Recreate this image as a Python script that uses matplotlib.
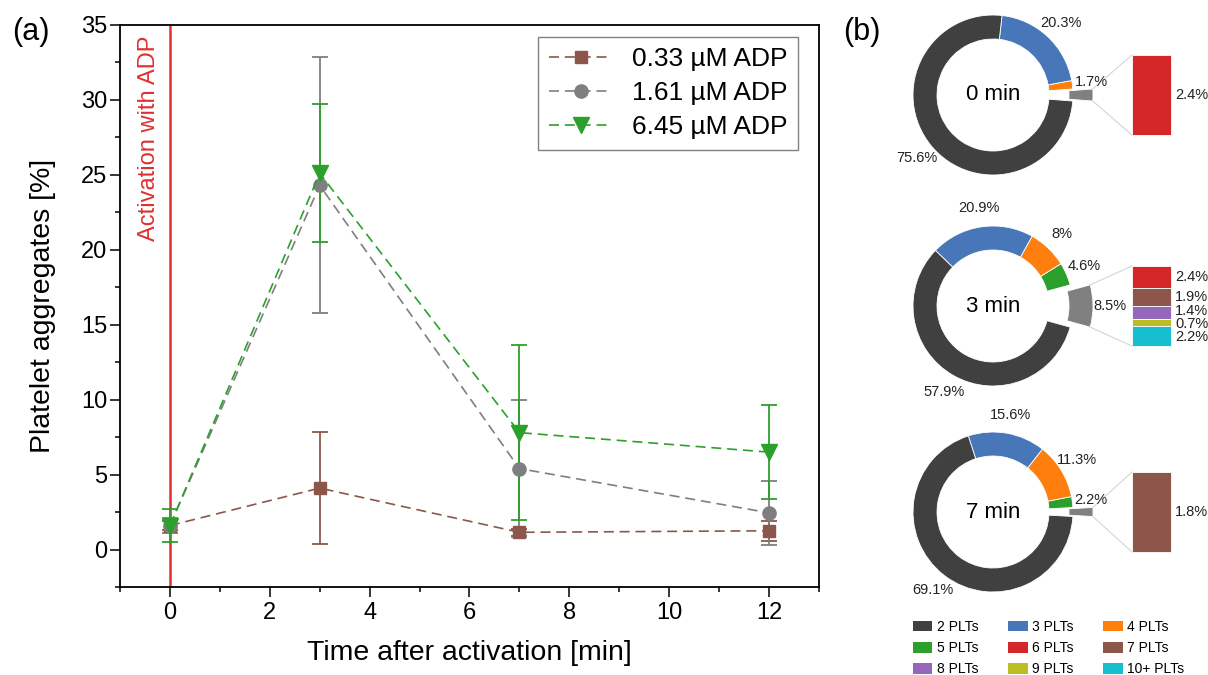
import numpy as np
import matplotlib
matplotlib.use("Agg")
import matplotlib.pyplot as plt
from matplotlib.patches import Patch
from matplotlib.ticker import MultipleLocator

plt.rcParams['font.family'] = ['Liberation Sans', 'DejaVu Sans']

# (a) aggregates over time
times = [0, 3, 7, 12]
adp_labels = ['0.33 µM ADP', '1.61 µM ADP', '6.45 µM ADP']
agg_033 = [1.6, 4.1, 1.15, 1.25]
err_033 = [0.3, 3.75, 0.25, 0.65]
agg_161 = [1.6, 24.3, 5.4, 2.45]
err_161 = [0.5, 8.55, 4.55, 2.15]
agg_645 = [1.6, 25.1, 7.8, 6.5]
err_645 = [1.1, 4.6, 5.85, 3.15]

# (b) aggregate size distribution [%]
pie_titles = ['0 min', '3 min', '7 min']
plts_2 = [75.6, 57.9, 69.1]
plts_3 = [20.3, 20.9, 15.6]
plts_4 = [1.7, 8.0, 11.3]
plts_5 = [0.0, 4.6, 2.2]
plts_rest = [2.4, 8.5, 1.8]
plts_6 = [2.4, 2.4, 0.0]
plts_7 = [0.0, 1.9, 1.8]
plts_8 = [0.0, 1.4, 0.0]
plts_9 = [0.0, 0.7, 0.0]
plts_10 = [0.0, 2.2, 0.0]
size_names = ['2 PLTs', '3 PLTs', '4 PLTs', '5 PLTs', '6 PLTs',
              '7 PLTs', '8 PLTs', '9 PLTs', '10+ PLTs']

W, H = 1208, 675
fig = plt.figure(figsize=(W / 100, H / 100), dpi=100)

# ---------- (a) ----------
ax = fig.add_axes([120 / W, (H - 587) / H, (819 - 120) / W, (587 - 25) / H])
red = '#e03030'
ax.axvline(0, color=red, lw=1.8, zorder=1)
ax.text(-0.42, 34.3, 'Activation with ADP', rotation=90, color=red,
        fontsize=17, ha='center', va='top')

series = [(agg_033, err_033, '#8c564b', 's', 9),
          (agg_161, err_161, '#7f7f7f', 'o', 9.5),
          (agg_645, err_645, '#2ca02c', 'v', 11)]
handles = []
for vals, errs, c, m, ms in series:
    cont = ax.errorbar(times, vals, yerr=errs, color=c, marker=m, ms=ms,
                       mec=c, ls=(0, (6, 3.5)), lw=1.2, elinewidth=1.3,
                       capsize=6, capthick=1.3, zorder=3)
    handles.append(cont[0])

ax.legend(handles, adp_labels, loc='upper right',
          bbox_to_anchor=(0.970, 0.979), borderaxespad=0, fontsize=19,
          fancybox=False, edgecolor='#808080', framealpha=1,
          handlelength=2.4, handletextpad=0.75, labelspacing=0.38,
          borderpad=0.4, numpoints=1)

ax.set_xlim(-1, 13)
ax.set_ylim(-2.5, 35)
ax.xaxis.set_major_locator(MultipleLocator(2))
ax.xaxis.set_minor_locator(MultipleLocator(1))
ax.yaxis.set_major_locator(MultipleLocator(5))
ax.yaxis.set_minor_locator(MultipleLocator(2.5))
ax.tick_params(which='both', direction='out', top=False, right=False,
               width=1.1, labelsize=17)
ax.tick_params(which='major', length=7)
ax.tick_params(axis='y', which='major', pad=2)
ax.tick_params(axis='x', which='major', pad=4)
ax.tick_params(which='minor', length=3.5)
for sp in ax.spines.values():
    sp.set_linewidth(1.3)
ax.set_xlabel('Time after activation [min]', fontsize=20.5, labelpad=11)
ax.set_ylabel('Platelet aggregates [%]', fontsize=20.5, labelpad=18)

# ---------- (b) ----------
axb = fig.add_axes([840 / W, 0, (W - 840) / W, 1])
main_cols = ['#808080', '#2ca02c', '#ff7f0e', '#4777b8', '#404040']
rest_cols = ['#d62728', '#8c564b', '#9467bd', '#bcbd22', '#17becf']
R, ring = 80, 24
centers_y = [95, 306, 512]
cx = 993
lab_kw = dict(fontsize=10.5, color='#222222', va='center')

for k, title in enumerate(pie_titles):
    cy = H - centers_y[k]
    vals = [plts_rest[k], plts_5[k], plts_4[k], plts_3[k], plts_2[k]]
    start = -plts_rest[k] / sum(vals) * 180
    wedges, _ = axb.pie(vals, colors=main_cols, center=(cx, cy), radius=R,
                        startangle=start, counterclock=True, frame=True,
                        wedgeprops=dict(width=ring, edgecolor='white',
                                        linewidth=0.6))
    # pull out the "rest" wedge
    w0 = wedges[0]
    mid = np.deg2rad((w0.theta1 + w0.theta2) / 2)
    ex, ey = cx + 20 * np.cos(mid), cy + 20 * np.sin(mid)
    w0.set_center((ex, ey))

    for w, v in zip(wedges[1:], vals[1:]):
        if v <= 0:
            continue
        a = np.deg2rad((w.theta1 + w.theta2) / 2)
        axb.text(cx + 99 * np.cos(a), cy + 99 * np.sin(a), f'{v:g}%',
                 ha='center', **lab_kw)

    parts = [plts_6[k], plts_7[k], plts_8[k], plts_9[k], plts_10[k]]
    if sum(1 for p in parts if p > 0) > 1:
        axb.text(ex + 97 * np.cos(mid), ey + 97 * np.sin(mid),
                 f'{plts_rest[k]:g}%', ha='center', **lab_kw)

    axb.text(cx, cy, title, fontsize=16, ha='center', va='center')

    # bar of pie
    bar_x, bar_w, bar_h = cx + 139, 39, 80
    top = cy + bar_h / 2
    tot = sum(parts)
    y = top
    lab_y, lab_t = [], []
    for v, c in zip(parts, rest_cols):
        if v <= 0:
            continue
        h = v / tot * bar_h
        axb.bar(bar_x, h, width=bar_w, bottom=y - h, align='edge', color=c,
                edgecolor='white', linewidth=0.6)
        lab_y.append(y - h / 2)
        lab_t.append(f'{v:g}%')
        y -= h
    # spread labels that would sit on top of each other
    for _ in range(20):
        for i in range(len(lab_y) - 1):
            gap = lab_y[i] - lab_y[i + 1]
            if gap < 13:
                d = (13 - gap) / 2
                lab_y[i] += d
                lab_y[i + 1] -= d
    for ly, lt in zip(lab_y, lab_t):
        axb.text(bar_x + bar_w + 4, ly, lt, ha='left', **lab_kw)

    t1, t2 = np.deg2rad(w0.theta1), np.deg2rad(w0.theta2)
    axb.plot([ex + R * np.cos(t2), bar_x], [ey + R * np.sin(t2), top],
             color='#d5d5d5', lw=0.8)
    axb.plot([ex + R * np.cos(t1), bar_x], [ey + R * np.sin(t1), top - bar_h],
             color='#d5d5d5', lw=0.8)

axb.set_xlim(840, W)
axb.set_ylim(0, H)
axb.axis('off')

all_cols = [main_cols[4], main_cols[3], main_cols[2], main_cols[1]] + rest_cols
patches = [Patch(facecolor=c, label=n) for c, n in zip(all_cols, size_names)]
order = [0, 3, 6, 1, 4, 7, 2, 5, 8]
axb.legend(handles=[patches[i] for i in order], ncol=3, loc='upper left',
           bbox_to_anchor=(913 / W, 1 - 620 / H), bbox_transform=fig.transFigure,
           frameon=False, fontsize=10, handlelength=1.4, handleheight=0.8,
           handletextpad=0.3, columnspacing=2.15, labelspacing=0.52,
           borderpad=0, borderaxespad=0)

fig.text(31 / W, 1 - 32 / H, '(a)', fontsize=22, ha='center', va='center')
fig.text(862 / W, 1 - 32 / H, '(b)', fontsize=22, ha='center', va='center')

fig.savefig('out.png', dpi=100)
